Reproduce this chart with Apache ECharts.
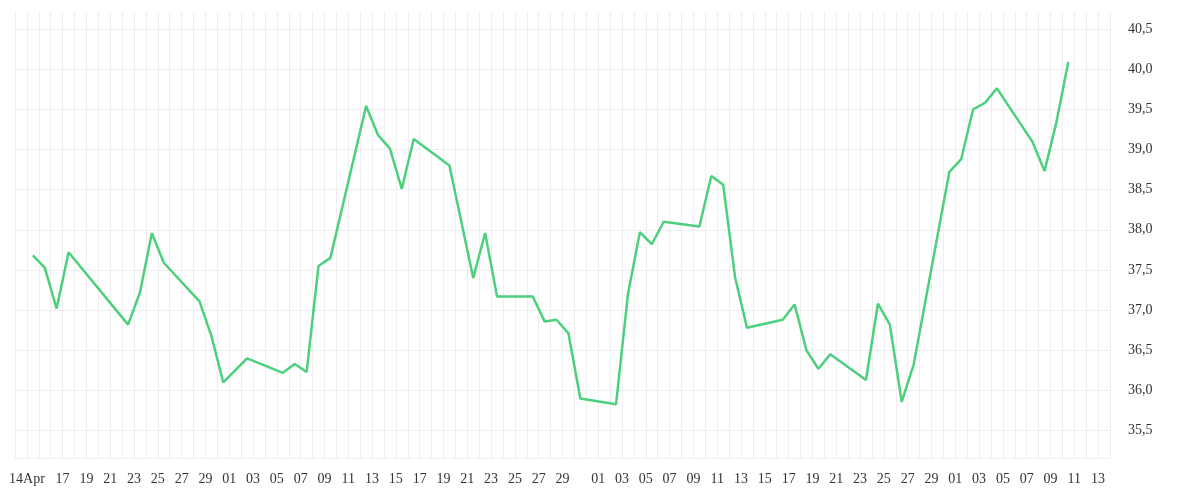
<!DOCTYPE html>
<html><head><meta charset="utf-8">
<script src="https://cdn.jsdelivr.net/npm/echarts@6/dist/echarts.min.js"></script>
<style>html,body{margin:0;padding:0;background:#fff}#c{width:1200px;height:500px}</style>
</head><body><div id="c"></div>
<script>
// dates as [month(1-based), day], year 2025
const dates = [[4,14],[4,15],[4,16],[4,17],[4,22],[4,23],[4,24],[4,25],[4,28],[4,29],[4,30],[5,2],[5,5],[5,6],[5,7],[5,8],[5,9],[5,12],[5,13],[5,14],[5,15],[5,16],[5,19],[5,21],[5,22],[5,23],[5,26],[5,27],[5,28],[5,29],[5,30],[6,2],[6,3],[6,4],[6,5],[6,6],[6,9],[6,10],[6,11],[6,12],[6,13],[6,16],[6,17],[6,18],[6,19],[6,20],[6,23],[6,24],[6,25],[6,26],[6,27],[6,30],[7,1],[7,2],[7,3],[7,4],[7,7],[7,8],[7,9],[7,10]];
const values = [37.68,37.53,37.02,37.72,36.82,37.22,37.96,37.59,37.11,36.68,36.10,36.40,36.22,36.33,36.23,37.55,37.65,39.54,39.18,39.01,38.51,39.13,38.80,37.40,37.96,37.17,37.17,36.86,36.88,36.71,35.90,35.83,37.20,37.97,37.82,38.10,38.04,38.67,38.56,37.41,36.78,36.88,37.07,36.50,36.27,36.45,36.13,37.08,36.82,35.86,36.32,38.72,38.88,39.50,39.58,39.76,39.09,38.73,39.34,40.09];
const yTicks = [35.5,36.0,36.5,37.0,37.5,38.0,38.5,39.0,39.5,40.0,40.5];

const data = dates.map((d,i)=>[new Date(2025,d[0]-1,d[1],12).getTime(), values[i]]);
const chart = echarts.init(document.getElementById('c'));
const font = "'Liberation Serif', serif";
chart.setOption({
  animation:false,
  grid:{left:15,right:90,top:12,bottom:42},
  xAxis:{type:'time',min:new Date(2025,3,13).getTime(),max:new Date(2025,6,14).getTime(),
    minInterval:86400000,maxInterval:86400000,
    axisLine:{lineStyle:{color:'#eeeeee'}},axisTick:{show:false},
    splitLine:{show:true,lineStyle:{color:'#eeeeee',width:1}},
    axisLabel:{color:'#333',fontFamily:font,fontSize:14,margin:14,hideOverlap:false,showMinLabel:false,showMaxLabel:false,
      formatter:function(v){const d=new Date(v);const day=d.getDate();const m=d.getMonth();
        if(m===3&&day===14)return '14Apr';
        if(m===3&&day<17)return '';
        if(m===4&&day===31)return '';
        if(day%2===1&&d.getHours()===0)return (day<10?'0':'')+day;
        return '';},
      rich:{}}},
  yAxis:{type:'value',position:'right',min:35.16,max:40.71,
    axisLine:{show:false},
    axisTick:{show:false,customValues:yTicks},
    splitLine:{show:true,lineStyle:{color:'#eeeeee'}},
    axisLabel:{customValues:yTicks,color:'#333',fontFamily:font,fontSize:14,margin:18,
      formatter:v=>v.toFixed(1).replace('.',',')}},
  series:[{type:'line',data:data,showSymbol:false,lineStyle:{color:'#4cd07d',width:2.5},itemStyle:{color:'#4cd07d'}}]
});
</script></body></html>
